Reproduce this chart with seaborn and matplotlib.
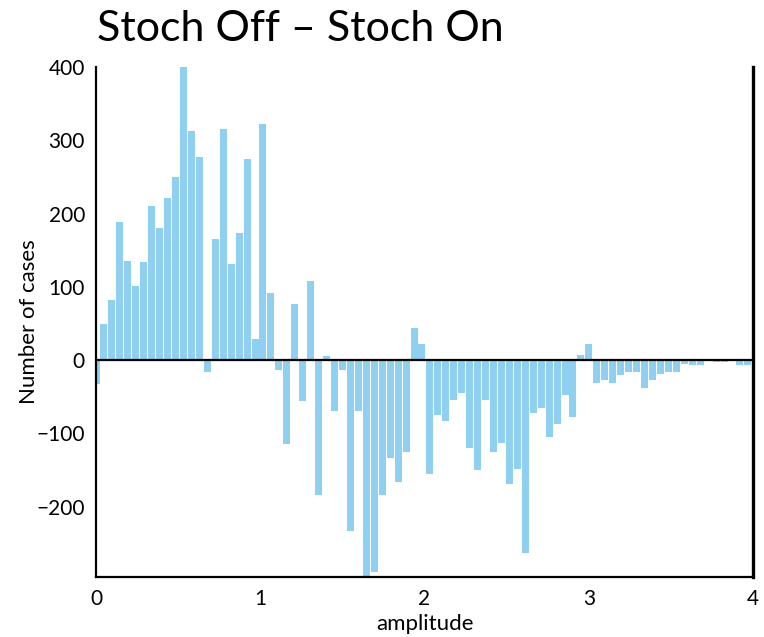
import numpy as np
import pandas as pd
import matplotlib
matplotlib.use("Agg")
import matplotlib.pyplot as plt
import seaborn as sns

# Difference in case counts per amplitude bin (Stoch Off minus Stoch On)
bin_step = 0.0484
n_bins = 83
amplitude = np.round(np.arange(n_bins) * bin_step, 4)
diff_cases = [
    -33, 49, 82, 188, 135, 101, 134, 210, 180, 221,
    250, 400, 312, 277, -16, 165, 315, 131, 173, 275,
    29, 322, 91, -13, -114, 76, -56, 108, -184, 5,
    -70, -13, -233, -69, -305, -289, -184, -133, -167, -125,
    44, 22, -156, -75, -83, -54, -45, -120, -150, -55,
    -125, -113, -169, -148, -263, -72, -66, -105, -87, -47,
    -77, 7, 22, -31, -27, -31, -20, -16, -16, -38,
    -27, -19, -16, -16, -5, -6, -6, 0, -2, -2,
    0, -6, -6,
]
x_ticks = [0, 1, 2, 3, 4]
y_ticks = [-200, -100, 0, 100, 200, 300, 400]

df = pd.DataFrame({"amplitude": amplitude, "cases": diff_cases})

sns.set_theme(style="white")
plt.rcParams["font.family"] = ["Lato", "DejaVu Sans"]
plt.rcParams["axes.unicode_minus"] = True
for key in ["text.color", "axes.labelcolor", "xtick.color", "ytick.color"]:
    plt.rcParams[key] = "black"

fig = plt.figure(figsize=(7.64, 6.37), dpi=100)
ax = fig.add_axes([0.1257, 0.0942, 0.8599, 0.8006])

sns.barplot(
    data=df, x="amplitude", y="cases", native_scale=True,
    width=0.88, color="#8fcff0", saturation=1, errorbar=None,
    linewidth=0, ax=ax,
)

ax.axhline(0, color="black", lw=1.6, zorder=3)
ax.set_xlim(0, 4)
ax.set_ylim(-296, 400)
ax.set_xticks(x_ticks)
ax.set_yticks(y_ticks)
ax.set_xticklabels([str(t) for t in x_ticks])
ax.set_yticklabels([str(t).replace("-", "\u2212") for t in y_ticks])
ax.tick_params(axis="both", direction="in", length=7, width=1.5,
               labelsize=15, colors="black", pad=8)
ax.tick_params(axis="x", pad=9)

for side in ["left", "bottom", "right"]:
    ax.spines[side].set_visible(True)
    ax.spines[side].set_color("black")
    ax.spines[side].set_linewidth(1.6)
ax.spines["right"].set_linewidth(2.4)
ax.spines["top"].set_visible(False)

ax.set_xlabel("amplitude", fontsize=16, labelpad=3)
ax.set_ylabel("Number of cases", fontsize=16, labelpad=-2)

fig.text(0.127, 0.925, "Stoch Off \u2013 Stoch On", fontsize=31,
         ha="left", va="bottom", color="black")

fig.savefig("out.png", dpi=100, facecolor="white")
